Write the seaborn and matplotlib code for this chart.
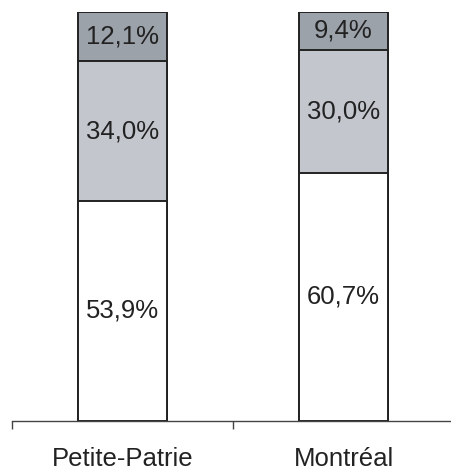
import numpy as np
import pandas as pd
import matplotlib
matplotlib.use("Agg")
import matplotlib.pyplot as plt
import seaborn as sns

# dati
quartieri = ["Petite-Patrie", "Montréal"]
bas = [53.9, 60.7]       # segmento bianco
milieu = [34.0, 30.0]    # grigio chiaro
haut = [12.1, 9.4]       # grigio scuro

colori = ["#ffffff", "#c3c6cc", "#9ba2aa"]

df = pd.DataFrame({"quartiere": quartieri, "bas": bas, "milieu": milieu, "haut": haut})
df["c1"] = df["bas"]
df["c2"] = df["bas"] + df["milieu"]
df["c3"] = df["c2"] + df["haut"]

sns.set_style("white")
plt.rcParams["font.family"] = ["Liberation Sans", "DejaVu Sans"]

fig = plt.figure(figsize=(4.51, 4.70), dpi=100)
ax = fig.add_axes([12 / 451, 1 - 421 / 470, 442 / 451, 409 / 470])

# barre cumulate dall'alto verso il basso
for col, c in zip(["c3", "c2", "c1"], colori[::-1]):
    sns.barplot(data=df, x="quartiere", y=col, color=c, width=0.40,
                edgecolor="#222222", linewidth=1.4, saturation=1, ax=ax)

# etichette percentuali
for i in range(len(quartieri)):
    start = 0
    for v in [bas[i], milieu[i], haut[i]]:
        ax.text(i, start + v / 2, f"{v:.1f}%".replace(".", ","),
                ha="center", va="center", fontsize=18.5, color="#222222")
        start += v

ax.set_xlim(-0.5, 1.5)
ax.set_ylim(0, 100)
ax.set_xlabel("")
ax.set_ylabel("")
ax.set_yticks([])
ax.set_xticks([-0.5, 0.5, 1.5])
ax.set_xticklabels([])
ax.set_xticks([0, 1], minor=True)
ax.set_xticklabels(quartieri, minor=True, fontsize=18.5, color="#222222")
ax.tick_params(axis="x", which="major", bottom=True, direction="out", length=6, width=1, color="#444444")
ax.tick_params(axis="x", which="minor", bottom=True, length=0, pad=19)
for s in ["top", "right", "left"]:
    ax.spines[s].set_visible(False)
ax.spines["bottom"].set_color("#444444")
ax.spines["bottom"].set_linewidth(1)

fig.savefig("out.png", dpi=100)
